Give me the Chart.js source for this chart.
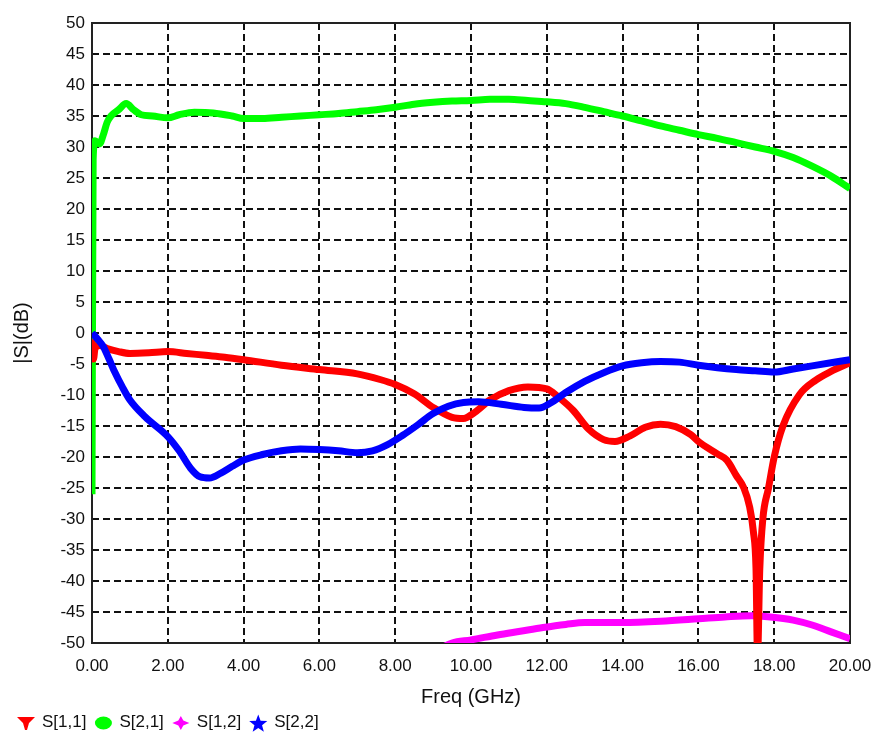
<!DOCTYPE html>
<html>
<head>
<meta charset="utf-8">
<title>|S| vs Freq</title>
<script src="https://cdn.jsdelivr.net/npm/chart.js@4.4.1/dist/chart.umd.min.js"></script>
<style>
    html, body { margin: 0; padding: 0; background: #fff; }
    #wrap { width: 876px; height: 734px; }
</style>
</head>
<body>
<div id="wrap"><canvas id="sChart" width="876" height="734"></canvas></div>
<script>
// values: frequency in GHz, magnitude in dB
const s11Freq = [0.0, 0.04, 0.08, 0.2, 0.4, 0.7, 1.0, 1.5, 2.0, 2.5, 3.0, 3.5, 4.0, 5.0, 6.0, 7.0, 7.6, 8.0, 8.5, 9.0, 9.5, 9.8, 10.1, 10.5, 11.0, 11.5, 12.0, 12.3, 12.7, 13.1, 13.5, 13.8, 14.2, 14.6, 15.0, 15.4, 15.8, 16.0, 16.5, 16.75, 17.0, 17.2, 17.35, 17.45, 17.52, 17.56, 17.62, 17.7, 17.85, 18.0, 18.23, 18.66, 19.1, 19.5, 20.0];
const s11Db = [-1, -4.2, -2.5, -2, -2.5, -3, -3.3, -3.2, -3.0, -3.3, -3.6, -3.9, -4.3, -5.2, -5.9, -6.6, -7.5, -8.3, -9.8, -12, -13.6, -13.8, -12.8, -10.8, -9.3, -8.7, -9, -10.3, -12.5, -15.5, -17.2, -17.5, -16.6, -15.2, -14.7, -15.1, -16.4, -17.5, -19.5, -20.5, -23, -25, -28, -32, -38, -52, -38, -30, -25, -20, -15, -10, -7.6, -6.2, -4.8];

const s21Freq = [0.0, 0.03, 0.08, 0.2, 0.3, 0.4, 0.5, 0.7, 0.9, 1.1, 1.3, 1.6, 2.0, 2.3, 2.7, 3.2, 3.7, 4.0, 4.5, 5.0, 5.5, 6.0, 6.5, 7.0, 7.5, 8.0, 8.5, 9.0, 9.5, 10.0, 10.5, 11.0, 11.5, 12.0, 12.5, 13.0, 13.5, 14.0, 14.5, 15.0, 15.5, 16.0, 16.5, 17.0, 17.5, 18.0, 18.5, 19.0, 19.5, 20.0];
const s21Db = [-26, 28, 31, 30.5, 32, 34, 35, 36, 37, 36, 35.2, 35, 34.7, 35.2, 35.6, 35.5, 35, 34.6, 34.6, 34.8, 35, 35.2, 35.4, 35.7, 36, 36.4, 36.9, 37.2, 37.4, 37.5, 37.7, 37.7, 37.5, 37.3, 37, 36.4, 35.7, 35, 34.2, 33.4, 32.7, 32, 31.4, 30.7, 30, 29.3, 28.3, 26.9, 25.3, 23.3];

const s12Freq = [9.0, 9.5, 10.0, 10.7, 11.3, 11.9, 12.5, 13.0, 14.0, 15.0, 16.0, 16.7, 17.4, 17.9, 18.5, 19.0, 19.5, 20.0];
const s12Db = [-51.5, -50, -49.5, -48.7, -48.1, -47.5, -47, -46.7, -46.7, -46.5, -46.1, -45.8, -45.6, -45.8, -46.3, -47.1, -48.2, -49.3];

const s22Freq = [0.0, 0.15, 0.3, 0.45, 0.6, 0.8, 1.0, 1.4, 2.0, 2.3, 2.6, 2.85, 3.1, 3.4, 3.7, 4.0, 4.5, 5.0, 5.5, 6.0, 6.5, 7.0, 7.4, 7.8, 8.2, 8.6, 9.0, 9.4, 9.8, 10.2, 10.8, 11.4, 11.8, 12.1, 12.5, 13.0, 13.5, 14.0, 14.5, 15.0, 15.5, 16.0, 16.5, 17.0, 17.5, 18.0, 18.5, 19.0, 19.5, 20.0];
const s22Db = [0, -1, -2.2, -4.2, -6.3, -8.7, -10.8, -13.5, -16.7, -19, -21.8, -23.2, -23.4, -22.6, -21.5, -20.5, -19.6, -19, -18.7, -18.8, -19, -19.3, -19, -18, -16.5, -14.8, -13, -11.8, -11.2, -11.1, -11.5, -12, -12.1, -11.3, -9.6, -7.8, -6.4, -5.3, -4.8, -4.6, -4.7, -5.2, -5.6, -5.9, -6.1, -6.3, -5.8, -5.3, -4.8, -4.3];

const seriesNames = ['S[1,1]', 'S[2,1]', 'S[1,2]', 'S[2,2]'];
const seriesColors = ['#ff0000', '#00ff00', '#ff00ff', '#0000ff'];

const freqMin = 0, freqMax = 20, freqStep = 2;
const dbMin = -50, dbMax = 50, dbStep = 5;

const FONT = '"Liberation Sans", Arial, sans-serif';

function pairs(xs, ys) {
    return xs.map((x, i) => ({ x: x, y: ys[i] }));
}

function makeSeries(idx, xs, ys, order) {
    return {
        label: seriesNames[idx],
        data: pairs(xs, ys),
        borderColor: seriesColors[idx],
        backgroundColor: seriesColors[idx],
        borderWidth: 7,
        pointRadius: 0,
        cubicInterpolationMode: 'monotone',
        borderJoinStyle: 'round',
        clip: 0,
        order: order
    };
}

// plot frame on all four sides
const framePlugin = {
    id: 'frame',
    beforeDatasetsDraw(chart) {
        const a = chart.chartArea;
        const ctx = chart.ctx;
        ctx.save();
        ctx.strokeStyle = '#222';
        ctx.lineWidth = 2;
        ctx.strokeRect(a.left, a.top, a.right - a.left, a.bottom - a.top);
        ctx.restore();
    }
};

function drawMarker(ctx, shape, cx, cy, color) {
    ctx.fillStyle = color;
    ctx.beginPath();
    if (shape === 0) {
        ctx.moveTo(cx - 9, cy - 6);
        ctx.lineTo(cx + 9, cy - 6);
        ctx.lineTo(cx + 3, cy);
        ctx.lineTo(cx + 1, cy + 7);
        ctx.lineTo(cx - 1, cy + 7);
        ctx.lineTo(cx - 3, cy);
    } else if (shape === 1) {
        ctx.ellipse(cx, cy, 8.5, 6.5, 0, 0, Math.PI * 2);
    } else if (shape === 2) {
        ctx.moveTo(cx, cy - 7);
        ctx.lineTo(cx + 2.5, cy - 2.5);
        ctx.lineTo(cx + 8.5, cy);
        ctx.lineTo(cx + 2.5, cy + 2.5);
        ctx.lineTo(cx, cy + 7);
        ctx.lineTo(cx - 2.5, cy + 2.5);
        ctx.lineTo(cx - 8.5, cy);
        ctx.lineTo(cx - 2.5, cy - 2.5);
    } else {
        for (let k = 0; k < 10; k++) {
            const r = k % 2 === 0 ? 9.5 : 4;
            const ang = -Math.PI / 2 + k * Math.PI / 5;
            const px = cx + r * Math.cos(ang);
            const py = cy + 1 + r * Math.sin(ang);
            if (k === 0) ctx.moveTo(px, py); else ctx.lineTo(px, py);
        }
    }
    ctx.closePath();
    ctx.fill();
}

// legend strip along the bottom-left, in dataset order
const legendPlugin = {
    id: 'bottomLegend',
    afterDraw(chart) {
        const ctx = chart.ctx;
        ctx.save();
        ctx.font = '17px ' + FONT;
        ctx.textBaseline = 'middle';
        ctx.textAlign = 'left';
        let x = 17;
        const y = 723;
        chart.data.datasets.forEach((ds, i) => {
            drawMarker(ctx, i, x + 9, y, ds.borderColor);
            x += 25;
            ctx.fillStyle = '#111';
            ctx.fillText(ds.label, x, y - 1);
            x += ctx.measureText(ds.label).width + 8;
        });
        ctx.restore();
    }
};

new Chart(document.getElementById('sChart'), {
    type: 'line',
    data: {
        datasets: [
            makeSeries(0, s11Freq, s11Db, 1),
            makeSeries(1, s21Freq, s21Db, 3),
            makeSeries(2, s12Freq, s12Db, 2),
            makeSeries(3, s22Freq, s22Db, 0)
        ]
    },
    options: {
        responsive: false,
        animation: false,
        devicePixelRatio: 1,
        layout: { padding: { left: 0, right: 26, top: 23, bottom: 0 } },
        plugins: {
            legend: { display: false },
            tooltip: { enabled: false }
        },
        scales: {
            x: {
                type: 'linear',
                min: freqMin,
                max: freqMax,
                afterFit(scale) {
                    scale.height = 91;
                    scale.paddingLeft = 0;
                    scale.paddingRight = 0;
                },
                ticks: {
                    stepSize: freqStep,
                    padding: 13,
                    color: '#111',
                    font: { family: FONT, size: 17 },
                    maxRotation: 0,
                    callback: v => v.toFixed(2)
                },
                grid: { color: '#111', lineWidth: 2, drawTicks: false },
                border: { display: false, dash: [7, 4] },
                title: {
                    display: true,
                    text: 'Freq (GHz)',
                    color: '#111',
                    font: { family: FONT, size: 20 },
                    padding: { top: 0, bottom: 25 }
                }
            },
            y: {
                min: dbMin,
                max: dbMax,
                afterFit(scale) {
                    scale.width = 92;
                    scale.paddingTop = 0;
                    scale.paddingBottom = 0;
                },
                ticks: {
                    stepSize: dbStep,
                    padding: 7,
                    color: '#111',
                    font: { family: FONT, size: 17 },
                    autoSkip: false
                },
                grid: { color: '#111', lineWidth: 2, drawTicks: false },
                border: { display: false, dash: [7, 4] },
                title: {
                    display: true,
                    text: '|S|(dB)',
                    color: '#111',
                    font: { family: FONT, size: 20 },
                    padding: { top: 10, bottom: 0 }
                }
            }
        }
    },
    plugins: [framePlugin, legendPlugin]
});
</script>
</body>
</html>
